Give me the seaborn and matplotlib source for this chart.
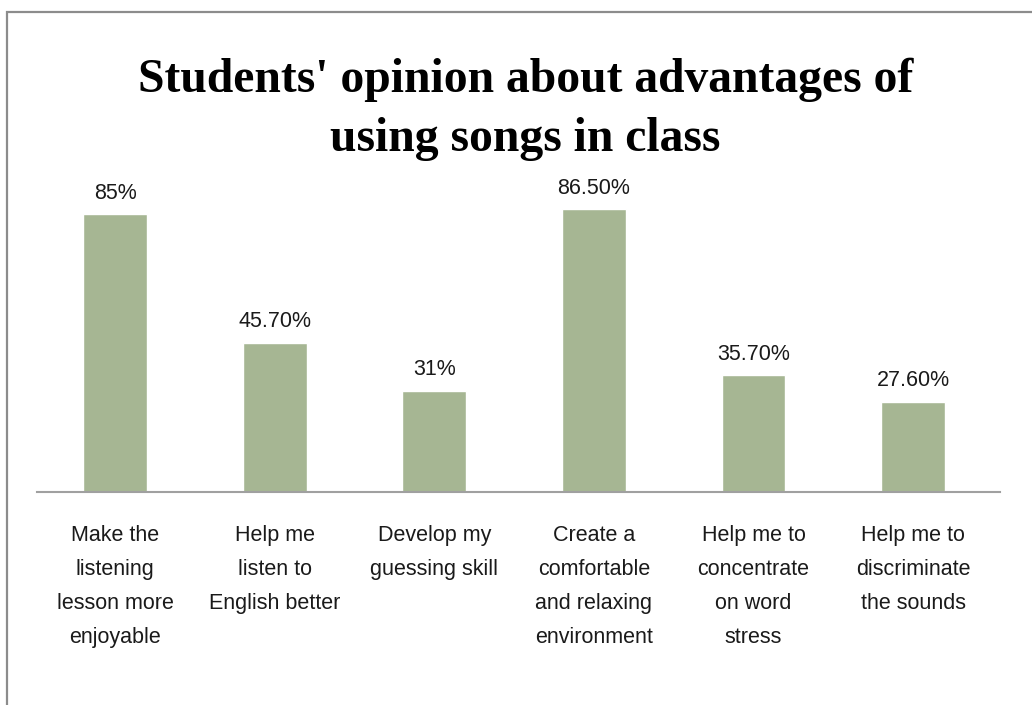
import matplotlib
matplotlib.use("Agg")
import matplotlib.pyplot as plt
from matplotlib.patches import Rectangle
import seaborn as sns
import pandas as pd

categories = [
    "Make the\nlistening\nlesson more\nenjoyable",
    "Help me\nlisten to\nEnglish better",
    "Develop my\nguessing skill",
    "Create a\ncomfortable\nand relaxing\nenvironment",
    "Help me to\nconcentrate\non word\nstress",
    "Help me to\ndiscriminate\nthe sounds",
]
values = [85, 45.7, 31, 86.5, 35.7, 27.6]
value_labels = ["85%", "45.70%", "31%", "86.50%", "35.70%", "27.60%"]
title = "Students' opinion about advantages of\nusing songs in class"

sns.set_style("white")
plt.rcParams["font.family"] = ["Liberation Sans", "DejaVu Sans"]

df = pd.DataFrame({"category": categories, "value": values})

fig = plt.figure(figsize=(10.32, 7.05), dpi=100)
ax = fig.add_axes([0.0359, 0.3021, 0.9331, 0.4633])

sns.barplot(data=df, x="category", y="value", color="#A6B693",
            saturation=1, width=0.4, ax=ax)

ax.set_ylim(0, 100)
ax.set_xlim(-0.489, 5.545)
ax.set_yticks([])
ax.set_xlabel("")
ax.set_ylabel("")
for side in ("top", "right", "left"):
    ax.spines[side].set_visible(False)
ax.spines["bottom"].set_color("#A0A0A0")
ax.spines["bottom"].set_linewidth(1.5)
ax.tick_params(axis="x", length=0, pad=24)
for lbl in ax.get_xticklabels():
    lbl.set_fontsize(15.5)
    lbl.set_linespacing(1.8)
    lbl.set_color("#1a1a1a")
    lbl.set_va("top")

for bar, txt in zip(ax.patches, value_labels):
    ax.annotate(txt, (bar.get_x() + bar.get_width() / 2, bar.get_height()),
                xytext=(0, 7.5), textcoords="offset points",
                ha="center", va="bottom", fontsize=15.5, color="#1a1a1a")

fig.text(0.509, 0.845, title, ha="center", va="center",
         fontsize=34.3, fontweight="bold", family="Liberation Serif",
         linespacing=1.45, color="black")

fig.add_artist(Rectangle((0.0063, -0.2), 1.5, 0.2 + 0.9823,
                         transform=fig.transFigure, fill=False,
                         edgecolor="#8C8C8C", linewidth=1.6))

fig.savefig("out.png", dpi=100, facecolor="white")
